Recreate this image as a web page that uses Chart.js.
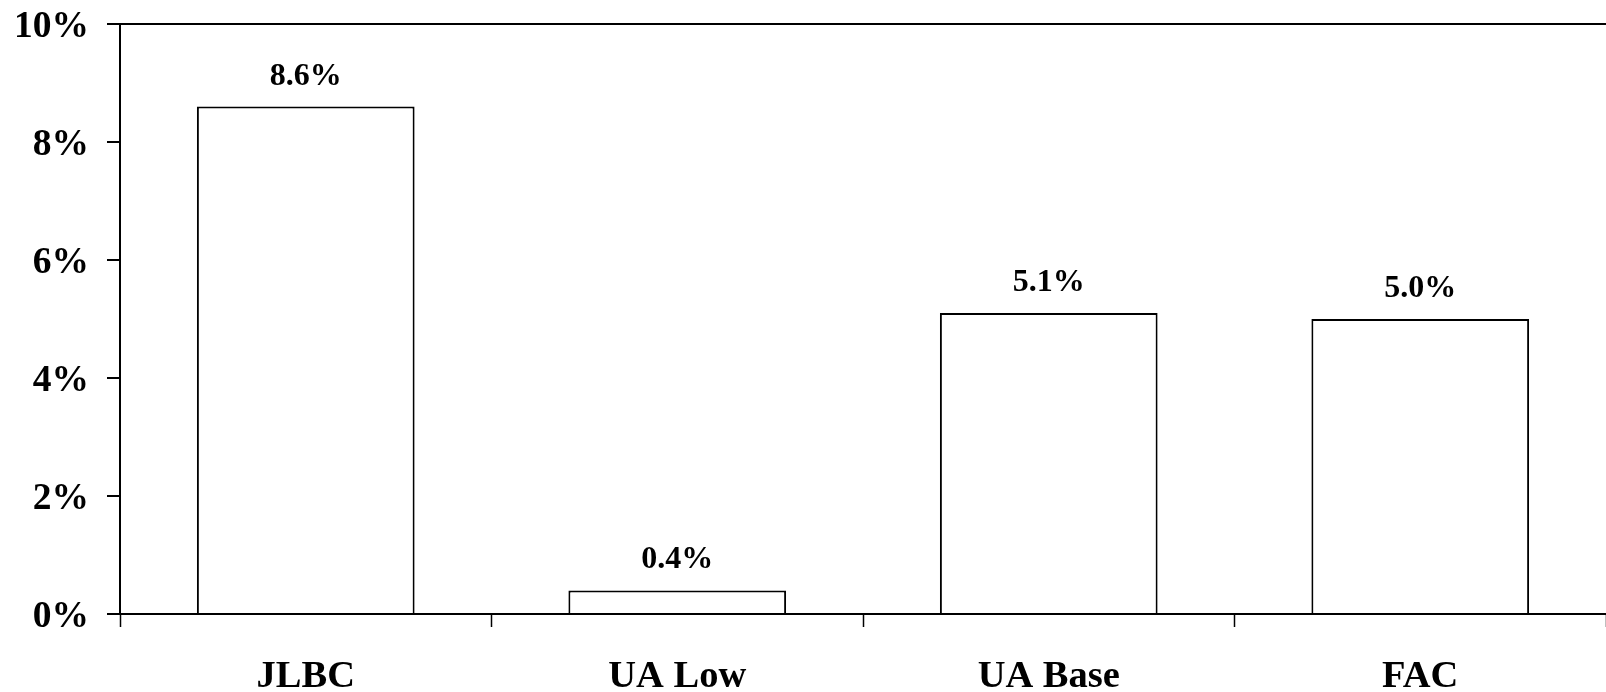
<!DOCTYPE html>
<html>
<head>
<meta charset="utf-8">
<script src="https://cdn.jsdelivr.net/npm/chart.js@4/dist/chart.umd.min.js"></script>
<style>
  html, body { margin: 0; padding: 0; background: #fff; overflow: hidden; }
  #wrap { width: 1606px; height: 692px; }
</style>
</head>
<body>
<div id="wrap"><canvas id="c" width="1606" height="692"></canvas></div>
<script>
// Growth estimates by source (percent)
const categories = ['JLBC', 'UA Low', 'UA Base', 'FAC'];
const growthValues = [8.6, 0.4, 5.1, 5.0];
const yTickValues = [0, 2, 4, 6, 8, 10];

const FONT_FAMILY = '"Liberation Serif", "Times New Roman", Times, serif';

// Draws the value above each bar
const valueLabels = {
  id: 'valueLabels',
  afterDatasetsDraw(chart) {
    const ctx = chart.ctx;
    const meta = chart.getDatasetMeta(0);
    ctx.save();
    ctx.font = 'bold 32px ' + FONT_FAMILY;
    ctx.fillStyle = '#000';
    ctx.textAlign = 'center';
    ctx.textBaseline = 'alphabetic';
    meta.data.forEach((bar, i) => {
      ctx.fillText(growthValues[i].toFixed(1) + '%', bar.x, bar.y - 22);
    });
    ctx.restore();
  }
};

new Chart(document.getElementById('c'), {
  type: 'bar',
  data: {
    labels: categories,
    datasets: [{
      data: growthValues,
      backgroundColor: '#ffffff',
      borderColor: '#000000',
      borderWidth: 2,
      categoryPercentage: 1,
      barPercentage: 0.586
    }]
  },
  options: {
    responsive: false,
    animation: false,
    layout: { padding: { top: 24, right: 0, bottom: 0, left: 0 } },
    plugins: {
      legend: { display: false },
      tooltip: { enabled: false }
    },
    scales: {
      x: {
        border: { display: true, color: '#000', width: 2 },
        grid: {
          display: true,
          offset: true,
          drawOnChartArea: false,
          drawTicks: true,
          tickLength: 13,
          tickColor: '#000',
          tickWidth: 1.5
        },
        ticks: {
          color: '#000',
          padding: 27,
          maxRotation: 0,
          font: { family: FONT_FAMILY, size: 38.5, weight: 'bold' }
        },
        afterFit(scale) {
          scale.height = 78;
          scale.paddingLeft = 0;
          scale.paddingRight = 0;
        }
      },
      y: {
        min: 0,
        max: 10,
        border: { display: true, color: '#000', width: 2 },
        grid: {
          display: true,
          drawOnChartArea: true,
          color: (c) => (c.tick && c.tick.value === 10 ? '#000' : 'rgba(0,0,0,0)'),
          lineWidth: 2,
          drawTicks: true,
          tickLength: 13,
          tickColor: '#000',
          tickWidth: 2
        },
        afterBuildTicks(scale) {
          scale.ticks = yTickValues.map(v => ({ value: v }));
        },
        ticks: {
          color: '#000',
          padding: 18,
          labelOffset: 3,
          font: { family: FONT_FAMILY, size: 37.5, weight: 'bold' },
          callback: (v) => v + '%'
        },
        afterFit(scale) {
          scale.width = 120;
          scale.paddingTop = 0;
          scale.paddingBottom = 0;
        }
      }
    }
  },
  plugins: [valueLabels]
});
</script>
</body>
</html>
